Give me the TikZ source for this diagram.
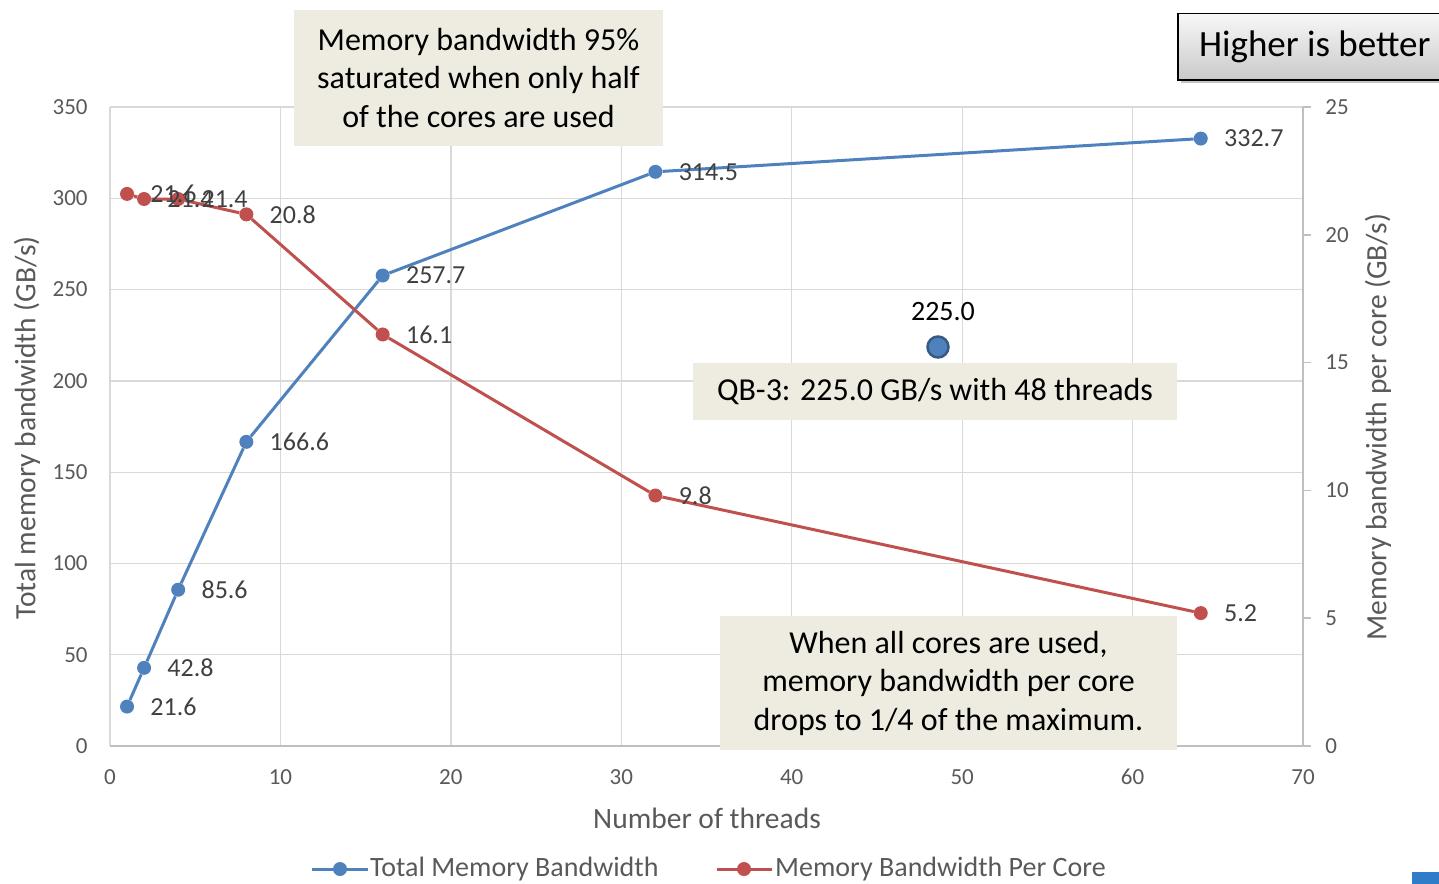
\documentclass[tikz,border=0pt]{standalone}
\usepackage{fontspec}
\setmainfont{Carlito}
\usepackage{xcolor}
\definecolor{serblue}{HTML}{4F81BD}
\definecolor{serred}{HTML}{C0504D}
\definecolor{notetan}{HTML}{EEECE1}
\definecolor{gridgray}{HTML}{D9D9D9}
\definecolor{axisgray}{HTML}{BFBFBF}
\definecolor{ticktext}{HTML}{595959}
\definecolor{labtext}{HTML}{404040}
\definecolor{cornerblue}{HTML}{2F7DC8}
\usetikzlibrary{positioning,shadows}
\newcommand{\sz}[2]{\fontsize{#1}{#2}\selectfont}
\tikzset{
  gridln/.style ={draw=gridgray, line width=1.3pt},
  axisln/.style ={draw=axisgray, line width=1.5pt},
  ticklab/.style={font=\sz{23pt}{27pt}, text=ticktext, inner sep=0pt},
  axtitle/.style={font=\sz{29.5pt}{34pt}, text=ticktext, inner sep=0pt},
  legtext/.style={font=\sz{28pt}{32pt}, text=ticktext, inner sep=0pt},
  bmark/.style  ={circle, fill=serblue, inner sep=0pt, minimum size=14pt},
  rmark/.style  ={circle, fill=serred, inner sep=0pt, minimum size=14pt},
  bline/.style  ={draw=serblue, line width=3pt},
  rline/.style  ={draw=serred, line width=3pt},
  dlab/.style   ={font=\sz{26pt}{30pt}, text=labtext, inner sep=0pt},
  note/.style   ={fill=notetan, align=center, inner sep=0pt, font=\sz{32pt}{38.5pt}},
  better/.style ={draw=black, line width=1.5pt, top color=gray!6, bottom color=gray!42,
                  drop shadow={shadow xshift=3pt, shadow yshift=-3pt, fill=black!45},
                  inner sep=0pt, font=\sz{37pt}{40pt}},
}

\begin{document}
\begin{tikzpicture}[x=1pt,y=-1pt]
  \useasboundingbox (0,0) rectangle (1439,883);
  % left axis: total bandwidth
  \begin{scope}[shift={(110,746)}, x=17.043pt, y=1.8257pt]
    \foreach \v in {50,100,...,350} \draw[gridln] (0,\v) -- (70,\v);
    \foreach \u in {0,10,...,60} \draw[gridln] (\u,0) -- (\u,350);
    \draw[axisln] (0,0) -- (70,0);
    \draw[axisln] (70,0) -- (70,350);
    \foreach \v in {0,50,...,350} \node[ticklab, anchor=east] at (-1.3,\v) {\v};
    \foreach \u in {0,10,...,70} \node[ticklab] at (\u,-17) {\u};

    \node[bmark] (b1) at (1,21.6) {};
    \node[bmark] (b2) at (2,42.8) {};
    \node[bmark] (b3) at (4,85.6) {};
    \node[bmark] (b4) at (8,166.6) {};
    \node[bmark] (b5) at (16,257.7) {};
    \node[bmark] (b6) at (32,314.5) {};
    \node[bmark] (b7) at (64,332.7) {};
    \draw[bline] (b1) -- (b2) -- (b3) -- (b4) -- (b5) -- (b6) -- (b7);
  \end{scope}

  % right axis: bandwidth per core
  \begin{scope}[shift={(110,746)}, x=17.043pt, y=25.56pt]
    \foreach \w in {0,5,...,25} {
      \draw[axisln] (70,\w) -- (70.47,\w);
      \node[ticklab, anchor=west] at (71.3,\w) {\w};
    }
    \node[rmark] (r1) at (1,21.6) {};
    \node[rmark] (r2) at (2,21.4) {};
    \node[rmark] (r3) at (4,21.4) {};
    \node[rmark] (r4) at (8,20.8) {};
    \node[rmark] (r5) at (16,16.1) {};
    \node[rmark] (r6) at (32,9.8) {};
    \node[rmark] (r7) at (64,5.2) {};
    \draw[rline] (r1) -- (r2) -- (r3) -- (r4) -- (r5) -- (r6) -- (r7);
  \end{scope}

  % data labels
  \node[dlab, right=16pt of b1] {21.6};
  \node[dlab, right=16pt of b2] {42.8};
  \node[dlab, right=16pt of b3] {85.6};
  \node[dlab, right=16pt of b4] {166.6};
  \node[dlab, right=16pt of b5] {257.7};
  \node[dlab, right=16pt of b6] {314.5};
  \node[dlab, right=16pt of b7] {332.7};
  \node[dlab, right=16pt of r1] {21.6};
  \node[dlab, right=16pt of r2] {21.4};
  \node[dlab, right=16pt of r3] {21.4};
  \node[dlab, right=16pt of r4] {20.8};
  \node[dlab, right=16pt of r5] {16.1};
  \node[dlab, right=16pt of r6] {9.8};
  \node[dlab, right=16pt of r7] {5.2};

  % axis titles
  \node[axtitle, rotate=90] (ytitle) at (27,428) {Total memory bandwidth (GB/s)};
  \node[axtitle, rotate=90] (y2title) at (1378,427) {Memory bandwidth per core (GB/s)};
  \node[axtitle] (xtitle) at (707,818) {Number of threads};

  % notes
  \node[note, minimum width=369pt, minimum height=136pt] (satnote) at (478.5,78)
    {Memory bandwidth 95\%\\saturated when only half\\of the cores are used};
  \node[note, minimum width=484pt, minimum height=57pt] (qbnote) at (935,391.5)
    {QB-3: 225.0 GB/s with 48 threads};
  \node[note, minimum width=457pt, minimum height=134pt] (allnote) at (948.5,683)
    {When all cores are used,\\memory bandwidth per core\\drops to 1/4 of the maximum.};

  % QB-3 point
  \node[circle, fill=serblue, draw=serblue!70!black, line width=2.5pt,
        inner sep=0pt, minimum size=21pt] (qb) at (938,347) {};
  \node[font=\sz{28pt}{32pt}, inner sep=0pt] (qblab) at (943,312) {225.0};

  \node[better, minimum width=268pt, minimum height=66pt, anchor=north west]
    (hib) at (1177,13) {\hspace*{6pt}Higher is better};

  % legend
  \node[bmark] (lgb) at (340,869) {};
  \draw[bline] (312,869) -- (368,869);
  \node[legtext, anchor=west] (lgbtext) at (370,869) {Total Memory Bandwidth};
  \node[rmark] (lgr) at (744,869) {};
  \draw[rline] (717,869) -- (772,869);
  \node[legtext, anchor=west] (lgrtext) at (775,869) {Memory Bandwidth Per Core};

  \fill[cornerblue] (1412,872) rectangle (1445,890);
\end{tikzpicture}
\end{document}
